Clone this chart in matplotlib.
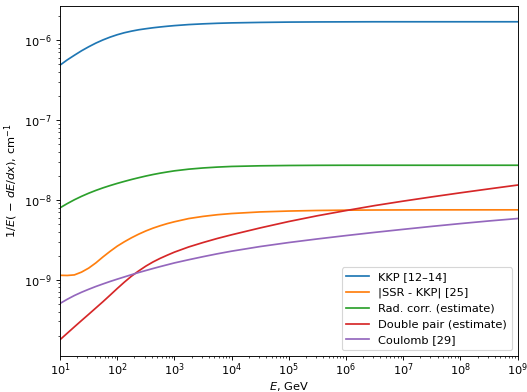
import numpy as np
import matplotlib
matplotlib.use("Agg")
import matplotlib.pyplot as plt

# log10(E / GeV) sample points
log_e = [1.0, 1.125, 1.25, 1.375, 1.5, 1.625, 1.75, 1.875, 2.0, 2.125, 2.25,
         2.375, 2.5, 2.625, 2.75, 2.875, 3.0, 3.25, 3.5, 3.75, 4.0, 4.5, 5.0,
         5.5, 6.0, 6.5, 7.0, 7.5, 8.0, 8.5, 9.0]

# log10 of 1/E(-dE/dx) in cm^-1 at the points above
kkp = [-6.315, -6.25, -6.192, -6.136, -6.086, -6.04, -6.00, -5.965, -5.935,
       -5.91, -5.89, -5.873, -5.86, -5.848, -5.838, -5.829, -5.821, -5.808,
       -5.799, -5.792, -5.787, -5.781, -5.777, -5.775, -5.774, -5.773, -5.773,
       -5.773, -5.773, -5.773, -5.773]
ssr_kkp = [-8.945, -8.947, -8.94, -8.905, -8.855, -8.79, -8.715, -8.645, -8.58,
           -8.525, -8.475, -8.43, -8.39, -8.355, -8.325, -8.298, -8.275, -8.235,
           -8.208, -8.187, -8.172, -8.152, -8.141, -8.134, -8.13, -8.128, -8.127,
           -8.126, -8.126, -8.126, -8.126]
rad_corr = [-8.10, -8.048, -8.00, -7.957, -7.918, -7.883, -7.851, -7.822, -7.795,
            -7.77, -7.746, -7.724, -7.703, -7.684, -7.667, -7.652, -7.638, -7.617,
            -7.602, -7.591, -7.583, -7.575, -7.571, -7.569, -7.568, -7.568, -7.568,
            -7.568, -7.568, -7.568, -7.568]
double_pair = [-9.75, -9.67, -9.59, -9.511, -9.433, -9.354, -9.275, -9.193, -9.11,
               -9.03, -8.955, -8.89, -8.83, -8.778, -8.733, -8.693, -8.655, -8.59,
               -8.535, -8.484, -8.438, -8.352, -8.272, -8.20, -8.135, -8.073, -8.017,
               -7.964, -7.913, -7.864, -7.816]
coulomb = [-9.297, -9.245, -9.198, -9.157, -9.12, -9.085, -9.053, -9.022, -8.993,
           -8.965, -8.937, -8.91, -8.885, -8.86, -8.836, -8.813, -8.79, -8.75,
           -8.712, -8.676, -8.643, -8.585, -8.535, -8.49, -8.448, -8.408, -8.37,
           -8.333, -8.298, -8.265, -8.235]

series = [
    ("KKP [12\u201314]", kkp),
    ("|SSR - KKP| [25]", ssr_kkp),
    ("Rad. corr. (estimate)", rad_corr),
    ("Double pair (estimate)", double_pair),
    ("Coulomb [29]", coulomb),
]

energy = 10.0 ** np.array(log_e)

dpi = 82.35
fig = plt.figure(figsize=(527 / dpi, 392 / dpi), dpi=dpi)
ax = fig.add_axes([0.114, 0.093, 0.868, 0.892])

for label, vals in series:
    ax.plot(energy, 10.0 ** np.array(vals), label=label)

ax.set_xscale("log")
ax.set_yscale("log")
ax.set_xlim(1e1, 1e9)
ax.tick_params(axis="x", which="major", pad=1.5)
ax.set_xlabel("$E$, GeV", labelpad=1.5)
ax.set_ylabel(r"$1/E(\,-\,dE/dx)$, cm$^{-1}$")
ax.legend(loc="lower right")

fig.savefig("out.png", dpi=dpi)
